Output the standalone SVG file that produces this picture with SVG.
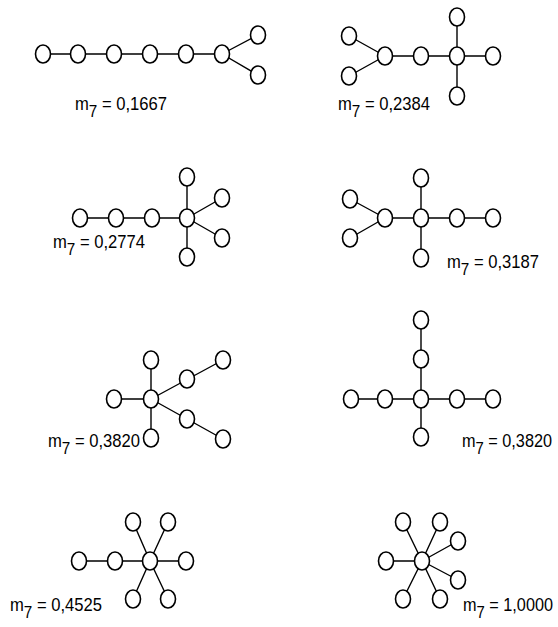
<svg xmlns="http://www.w3.org/2000/svg" width="558" height="627" viewBox="0 0 558 627">
<style>
.e{stroke:#000;stroke-width:1.4;fill:none}
.n{fill:#fff;stroke:#000;stroke-width:1.6}
.t{font-family:"Liberation Sans",Arial,sans-serif;font-size:18.5px;fill:#000}
.s{font-size:17px}
</style>
<rect width="558" height="627" fill="#fff"/>
<g id="connectors" class="e">
<path d="M43 54H222M222 54L258 35M222 54L258 75"/>
<path d="M349 36L385 56M349 76L385 56M385 56H493M457 17V96"/>
<path d="M80 218H187M187 177V257M187 218L222 198M187 218L222 238"/>
<path d="M350 199L385 218M350 238L385 218M385 218H493M421 178V258"/>
<path d="M114 399H151M151 360V438M151 399L223 360M151 399L223 439"/>
<path d="M351 399H493M421 320V437"/>
<path d="M79 561H186M150 561L133 522M150 561L168 522M150 561L133 599M150 561L168 599"/>
<path d="M386 561H422M422 561L403 522M422 561L440 522M422 561L458 541M422 561L458 580M422 561L403 599M422 561L440 599"/>
</g>
<g id="graph1">
<g id="g1n1"><ellipse class="n" cx="43" cy="54" rx="7.5" ry="9"/></g>
<g id="g1n2"><ellipse class="n" cx="78" cy="54" rx="7.5" ry="9"/></g>
<g id="g1n3"><ellipse class="n" cx="114" cy="54" rx="7.5" ry="9"/></g>
<g id="g1n4"><ellipse class="n" cx="150" cy="54" rx="7.5" ry="9"/></g>
<g id="g1n5"><ellipse class="n" cx="186" cy="54" rx="7.5" ry="9"/></g>
<g id="g1n6"><ellipse class="n" cx="222" cy="54" rx="7.5" ry="9"/></g>
<g id="g1n7"><ellipse class="n" cx="258" cy="35" rx="7.5" ry="9"/></g>
<g id="g1n8"><ellipse class="n" cx="258" cy="75" rx="7.5" ry="9"/></g>
<text class="t" x="75" y="110" textLength="92" lengthAdjust="spacingAndGlyphs">m<tspan class="s" dy="7">7</tspan><tspan dy="-7"> = 0,1667</tspan></text>
</g>
<g id="graph2">
<g id="g2n1"><ellipse class="n" cx="349" cy="36" rx="7.5" ry="9"/></g>
<g id="g2n2"><ellipse class="n" cx="349" cy="76" rx="7.5" ry="9"/></g>
<g id="g2n3"><ellipse class="n" cx="385" cy="56" rx="7.5" ry="9"/></g>
<g id="g2n4"><ellipse class="n" cx="421" cy="56" rx="7.5" ry="9"/></g>
<g id="g2n5"><ellipse class="n" cx="457" cy="56" rx="7.5" ry="9"/></g>
<g id="g2n6"><ellipse class="n" cx="457" cy="17" rx="7.5" ry="9"/></g>
<g id="g2n7"><ellipse class="n" cx="457" cy="96" rx="7.5" ry="9"/></g>
<g id="g2n8"><ellipse class="n" cx="493" cy="56" rx="7.5" ry="9"/></g>
<text class="t" x="338" y="110" textLength="92" lengthAdjust="spacingAndGlyphs">m<tspan class="s" dy="7">7</tspan><tspan dy="-7"> = 0,2384</tspan></text>
</g>
<g id="graph3">
<g id="g3n1"><ellipse class="n" cx="80" cy="218" rx="7.5" ry="9"/></g>
<g id="g3n2"><ellipse class="n" cx="116" cy="218" rx="7.5" ry="9"/></g>
<g id="g3n3"><ellipse class="n" cx="152" cy="218" rx="7.5" ry="9"/></g>
<g id="g3n4"><ellipse class="n" cx="187" cy="218" rx="7.5" ry="9"/></g>
<g id="g3n5"><ellipse class="n" cx="187" cy="177" rx="7.5" ry="9"/></g>
<g id="g3n6"><ellipse class="n" cx="187" cy="257" rx="7.5" ry="9"/></g>
<g id="g3n7"><ellipse class="n" cx="222" cy="198" rx="7.5" ry="9"/></g>
<g id="g3n8"><ellipse class="n" cx="222" cy="238" rx="7.5" ry="9"/></g>
<text class="t" x="53" y="248" textLength="92" lengthAdjust="spacingAndGlyphs">m<tspan class="s" dy="7">7</tspan><tspan dy="-7"> = 0,2774</tspan></text>
</g>
<g id="graph4">
<g id="g4n1"><ellipse class="n" cx="350" cy="199" rx="7.5" ry="9"/></g>
<g id="g4n2"><ellipse class="n" cx="350" cy="238" rx="7.5" ry="9"/></g>
<g id="g4n3"><ellipse class="n" cx="385" cy="218" rx="7.5" ry="9"/></g>
<g id="g4n4"><ellipse class="n" cx="421" cy="218" rx="7.5" ry="9"/></g>
<g id="g4n5"><ellipse class="n" cx="421" cy="178" rx="7.5" ry="9"/></g>
<g id="g4n6"><ellipse class="n" cx="421" cy="258" rx="7.5" ry="9"/></g>
<g id="g4n7"><ellipse class="n" cx="457" cy="218" rx="7.5" ry="9"/></g>
<g id="g4n8"><ellipse class="n" cx="493" cy="218" rx="7.5" ry="9"/></g>
<text class="t" x="447" y="268" textLength="92" lengthAdjust="spacingAndGlyphs">m<tspan class="s" dy="7">7</tspan><tspan dy="-7"> = 0,3187</tspan></text>
</g>
<g id="graph5">
<g id="g5n1"><ellipse class="n" cx="151" cy="399" rx="7.5" ry="9"/></g>
<g id="g5n2"><ellipse class="n" cx="114" cy="399" rx="7.5" ry="9"/></g>
<g id="g5n3"><ellipse class="n" cx="151" cy="360" rx="7.5" ry="9"/></g>
<g id="g5n4"><ellipse class="n" cx="151" cy="438" rx="7.5" ry="9"/></g>
<g id="g5n5"><ellipse class="n" cx="187" cy="379" rx="7.5" ry="9"/></g>
<g id="g5n6"><ellipse class="n" cx="223" cy="360" rx="7.5" ry="9"/></g>
<g id="g5n7"><ellipse class="n" cx="187" cy="419" rx="7.5" ry="9"/></g>
<g id="g5n8"><ellipse class="n" cx="223" cy="439" rx="7.5" ry="9"/></g>
<text class="t" x="48" y="447" textLength="92" lengthAdjust="spacingAndGlyphs">m<tspan class="s" dy="7">7</tspan><tspan dy="-7"> = 0,3820</tspan></text>
</g>
<g id="graph6">
<g id="g6n1"><ellipse class="n" cx="421" cy="399" rx="7.5" ry="9"/></g>
<g id="g6n2"><ellipse class="n" cx="421" cy="320" rx="7.5" ry="9"/></g>
<g id="g6n3"><ellipse class="n" cx="421" cy="359" rx="7.5" ry="9"/></g>
<g id="g6n4"><ellipse class="n" cx="351" cy="399" rx="7.5" ry="9"/></g>
<g id="g6n5"><ellipse class="n" cx="385" cy="399" rx="7.5" ry="9"/></g>
<g id="g6n6"><ellipse class="n" cx="457" cy="399" rx="7.5" ry="9"/></g>
<g id="g6n7"><ellipse class="n" cx="493" cy="399" rx="7.5" ry="9"/></g>
<g id="g6n8"><ellipse class="n" cx="421" cy="437" rx="7.5" ry="9"/></g>
<text class="t" x="462" y="447" textLength="90" lengthAdjust="spacingAndGlyphs">m<tspan class="s" dy="7">7</tspan><tspan dy="-7"> = 0,3820</tspan></text>
</g>
<g id="graph7">
<g id="g7n1"><ellipse class="n" cx="150" cy="561" rx="7.5" ry="9"/></g>
<g id="g7n2"><ellipse class="n" cx="79" cy="561" rx="7.5" ry="9"/></g>
<g id="g7n3"><ellipse class="n" cx="115" cy="561" rx="7.5" ry="9"/></g>
<g id="g7n4"><ellipse class="n" cx="186" cy="561" rx="7.5" ry="9"/></g>
<g id="g7n5"><ellipse class="n" cx="133" cy="522" rx="7.5" ry="9"/></g>
<g id="g7n6"><ellipse class="n" cx="168" cy="522" rx="7.5" ry="9"/></g>
<g id="g7n7"><ellipse class="n" cx="133" cy="599" rx="7.5" ry="9"/></g>
<g id="g7n8"><ellipse class="n" cx="168" cy="599" rx="7.5" ry="9"/></g>
<text class="t" x="10" y="611" textLength="92" lengthAdjust="spacingAndGlyphs">m<tspan class="s" dy="7">7</tspan><tspan dy="-7"> = 0,4525</tspan></text>
</g>
<g id="graph8">
<g id="g8n1"><ellipse class="n" cx="422" cy="561" rx="7.5" ry="9"/></g>
<g id="g8n2"><ellipse class="n" cx="386" cy="561" rx="7.5" ry="9"/></g>
<g id="g8n3"><ellipse class="n" cx="403" cy="522" rx="7.5" ry="9"/></g>
<g id="g8n4"><ellipse class="n" cx="440" cy="522" rx="7.5" ry="9"/></g>
<g id="g8n5"><ellipse class="n" cx="458" cy="541" rx="7.5" ry="9"/></g>
<g id="g8n6"><ellipse class="n" cx="458" cy="580" rx="7.5" ry="9"/></g>
<g id="g8n7"><ellipse class="n" cx="403" cy="599" rx="7.5" ry="9"/></g>
<g id="g8n8"><ellipse class="n" cx="440" cy="599" rx="7.5" ry="9"/></g>
<text class="t" x="463" y="611" textLength="90" lengthAdjust="spacingAndGlyphs">m<tspan class="s" dy="7">7</tspan><tspan dy="-7"> = 1,0000</tspan></text>
</g>
</svg>
